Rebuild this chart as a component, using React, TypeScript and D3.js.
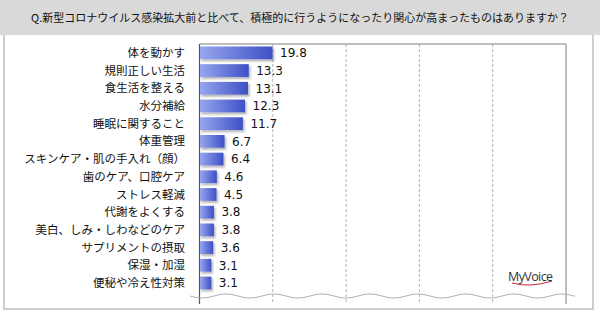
import React, { useEffect, useRef } from "react";
import * as d3 from "d3";

const title = "Q.新型コロナウイルス感染拡大前と比べて、積極的に行うようになったり関心が高まったものはありますか？";

const categories = [
  "体を動かす",
  "規則正しい生活",
  "食生活を整える",
  "水分補給",
  "睡眠に関すること",
  "体重管理",
  "スキンケア・肌の手入れ（顔）",
  "歯のケア、口腔ケア",
  "ストレス軽減",
  "代謝をよくする",
  "美白、しみ・しわなどのケア",
  "サプリメントの摂取",
  "保湿・加湿",
  "便秘や冷え性対策",
];
const values = [19.8, 13.3, 13.1, 12.3, 11.7, 6.7, 6.4, 4.6, 4.5, 3.8, 3.8, 3.6, 3.1, 3.1];
const gridTicks = [20, 40, 60, 80];

const W = 600;
const H = 312;

const App = () => {
  const svgRef = useRef<SVGSVGElement>(null);

  useEffect(() => {
    const svg = d3.select(svgRef.current);
    svg.selectAll("*").remove(); // очистка

    const plotTop = 44;
    const plotBottom = 304;

    const x = d3.scaleLinear().domain([0, 100]).range([199.5, 566]);
    const y = d3
      .scaleBand<string>()
      .domain(categories)
      .range([plotTop, plotTop + categories.length * 17.7])
      .paddingInner(0.28)
      .paddingOuter(0.14);

    const defs = svg.append("defs");
    const grad = defs
      .append("linearGradient")
      .attr("id", "barGrad")
      .attr("x1", "0%")
      .attr("x2", "100%")
      .attr("y1", "0%")
      .attr("y2", "0%");
    grad.append("stop").attr("offset", "0%").attr("stop-color", "#97a6ee");
    grad.append("stop").attr("offset", "100%").attr("stop-color", "#3d50c6");

    const shadow = defs.append("filter").attr("id", "shadow").attr("x", "-10%").attr("y", "-30%").attr("width", "130%").attr("height", "180%");
    shadow
      .append("feDropShadow")
      .attr("dx", 1.5)
      .attr("dy", 2)
      .attr("stdDeviation", 1.2)
      .attr("flood-color", "#000")
      .attr("flood-opacity", 0.3);

    // фон и рамка
    svg.append("rect").attr("x", 0).attr("y", 0).attr("width", W).attr("height", H).attr("fill", "#fff");
    svg
      .append("rect")
      .attr("x", 4)
      .attr("y", 30)
      .attr("width", 589)
      .attr("height", 279)
      .attr("fill", "#fff")
      .attr("stroke", "#bfbfbf")
      .attr("stroke-width", 1.5);
    svg.append("rect").attr("x", 0).attr("y", 0).attr("width", W).attr("height", 35).attr("fill", "#d9d9d9");

    svg
      .append("text")
      .attr("x", W / 2)
      .attr("y", 22)
      .attr("text-anchor", "middle")
      .style("font-family", "'Noto Sans CJK JP', sans-serif")
      .style("font-size", "11px")
      .style("fill", "#111")
      .text(title);

    // сетка
    svg
      .append("g")
      .selectAll("line")
      .data(gridTicks)
      .enter()
      .append("line")
      .attr("x1", d => x(d))
      .attr("x2", d => x(d))
      .attr("y1", plotTop)
      .attr("y2", plotBottom)
      .attr("stroke", "#b4b4b4")
      .attr("stroke-width", 1)
      .attr("stroke-dasharray", "3,2");

    // рамка области графика
    svg
      .append("path")
      .attr("d", `M${x(0)},${plotTop}H${x(100)}V${plotBottom}`)
      .attr("fill", "none")
      .attr("stroke", "#7f7f7f")
      .attr("stroke-width", 1);
    svg
      .append("line")
      .attr("x1", x(0))
      .attr("x2", x(0))
      .attr("y1", plotTop)
      .attr("y2", plotBottom)
      .attr("stroke", "#555")
      .attr("stroke-width", 1.2);

    // волна (разрыв)
    const wavePts: [number, number][] = d3.range(190, 576, 1).map(px => [px, 296 + 2 * Math.sin(((px - 190) / 48) * Math.PI * 2)]);
    svg
      .append("path")
      .attr("d", d3.line()(wavePts))
      .attr("fill", "none")
      .attr("stroke", "#b0b0b0")
      .attr("stroke-width", 1);

    // столбцы
    const rows = svg.append("g").selectAll("g").data(categories).enter().append("g");

    rows
      .append("rect")
      .attr("x", x(0) + 0.5)
      .attr("y", d => y(d)!)
      .attr("width", (d, i) => x(values[i]) - x(0))
      .attr("height", y.bandwidth())
      .attr("fill", "url(#barGrad)")
      .attr("filter", "url(#shadow)");

    rows
      .append("text")
      .attr("x", x(0) - 14.5)
      .attr("y", d => y(d)! + y.bandwidth() / 2)
      .attr("dy", "0.36em")
      .attr("text-anchor", "end")
      .style("font-family", "'Noto Sans CJK JP', sans-serif")
      .style("font-size", "11.5px")
      .style("fill", "#111")
      .text(d => d);

    rows
      .append("text")
      .attr("x", (d, i) => x(values[i]) + 8)
      .attr("y", d => y(d)! + y.bandwidth() / 2)
      .attr("dy", "0.36em")
      .style("font-family", "'DejaVu Sans', Verdana, sans-serif")
      .style("font-size", "12px")
      .style("fill", "#111")
      .text((d, i) => values[i].toFixed(1));

    // логотип
    const logo = svg.append("g");
    logo
      .append("path")
      .attr("d", "M512,283 Q530,288 552,281")
      .attr("fill", "none")
      .attr("stroke", "#c0282d")
      .attr("stroke-width", 1);
    logo
      .append("text")
      .attr("x", 508)
      .attr("y", 281)
      .style("font-family", "'Open Sans', sans-serif")
      .style("font-size", "12.5px")
      .style("letter-spacing", "-0.6px")
      .style("fill", "#333")
      .text("MyVoice");
  }, []);

  return (
    <svg
      ref={svgRef}
      width={W}
      height={H}
      style={{ position: "absolute", left: 0, top: 0 }}
    ></svg>
  );
};

export default App;
